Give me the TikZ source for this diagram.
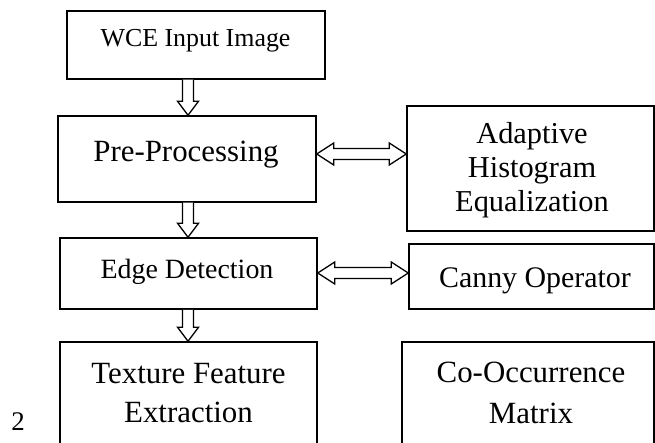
\documentclass[tikz,border=0pt]{standalone}
\usepackage{fontspec}
\setmainfont{Liberation Serif}
\usetikzlibrary{calc}
\begin{document}
\begin{tikzpicture}[x={(1bp,0)}, y={(0,-1bp)},
  box/.style={draw, line width=1.5bp, rectangle, inner sep=0pt},
  lbl/.style={inner sep=0pt, anchor=base, align=center},
  fat/.style={draw, line width=1.3bp, fill=white, line join=miter}]
\useasboundingbox (0,0) rectangle (655,443);
\clip (0,0) rectangle (655,443);

% process boxes
\node[box, minimum width=258bp, minimum height=68bp]  (wce)   at (196,45)    {};
\node[box, minimum width=258bp, minimum height=86bp]  (pre)   at (187,159)   {};
\node[box, minimum width=247bp, minimum height=125bp] (ahe)   at (530.5,168.5) {};
\node[box, minimum width=257bp, minimum height=71bp]  (edge)  at (188.5,273.5) {};
\node[box, minimum width=245bp, minimum height=65bp]  (canny) at (531.5,276.5) {};
\node[box, minimum width=257bp, minimum height=138bp] (tex)   at (188.5,411) {};
\node[box, minimum width=252bp, minimum height=138bp] (glcm)  at (528,411)   {};

% labels (multi-line labels are anchored at the baseline of their last line)
\node[lbl, font=\fontsize{26}{30}\selectfont] (wceT) at (195.5,47) {WCE Input Image};
\node[lbl, font=\fontsize{31}{34}\selectfont] (preT) at (186,162) {Pre-Processing};
\node[lbl, font=\fontsize{30.5}{34.5}\selectfont] (aheT) at (532,212) {Adaptive\\Histogram\\Equalization};
\node[lbl, font=\fontsize{28}{32}\selectfont] (edgeT) at (187,279) {Edge Detection};
\node[lbl, font=\fontsize{30}{34}\selectfont] (cannyT) at (535,288) {Canny Operator};
\node[lbl, font=\fontsize{31}{39}\selectfont] (texT) at (188.5,422) {Texture Feature\\Extraction};
\node[lbl, font=\fontsize{31}{41}\selectfont] (glcmT) at (531,423) {Co-Occurrence\\Matrix};
\node[lbl, font=\fontsize{27}{32}\selectfont] (num) at (18,430) {2};

% reference lines for the arrows
\coordinate (ax) at (188,0);
\coordinate (hy1) at (0,154);
\coordinate (hy2) at (0,273);

% hollow downward arrows
\foreach \a/\b in {wce/pre, pre/edge, edge/tex}{
  \coordinate (S) at (ax |- \a.south);
  \coordinate (T) at (ax |- \b.north);
  \draw[fat] ($(S)+(-5.5,0)$) -- ($(T)+(-5.5,-14)$) -- ($(T)+(-10.5,-14)$) -- (T)
    -- ($(T)+(10.5,-14)$) -- ($(T)+(5.5,-14)$) -- ($(S)+(5.5,0)$);
}

% hollow double-headed arrows
\foreach \a/\b/\h in {pre/ahe/hy1, edge/canny/hy2}{
  \coordinate (L) at (\a.east |- \h);
  \coordinate (R) at (\b.west |- \h);
  \draw[fat] (L) -- ($(L)+(17,-11)$) -- ($(L)+(17,-5.5)$) -- ($(R)+(-17,-5.5)$)
    -- ($(R)+(-17,-11)$) -- (R) -- ($(R)+(-17,11)$) -- ($(R)+(-17,5.5)$)
    -- ($(L)+(17,5.5)$) -- ($(L)+(17,11)$) -- cycle;
}
\end{tikzpicture}
\end{document}
